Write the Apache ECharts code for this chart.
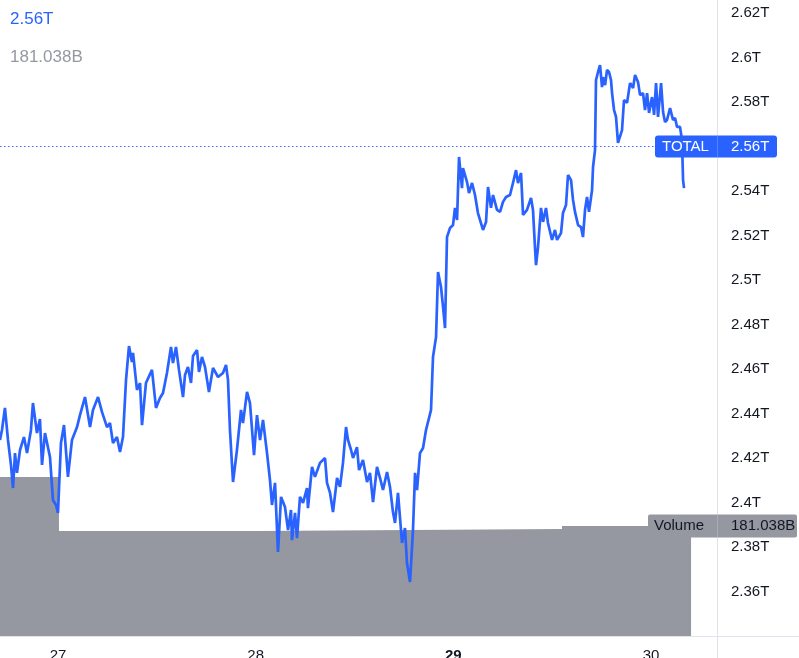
<!DOCTYPE html>
<html><head><meta charset="utf-8">
<script src="https://cdn.jsdelivr.net/npm/echarts@6/dist/echarts.min.js"></script>
<style>html,body{margin:0;padding:0;background:#fff;overflow:hidden}#c{width:799px;height:658px}</style>
</head><body><div id="c"></div>
<script>
// x values are hours after 27th 00:00; y values in trillions (T)
const dayTicks = [27, 28, 29, 30];
const hiddenPriceTicks = [2.34, 2.56];
const totalSeries = [
[-7.04,2.4281],[-6.80,2.4326],[-6.44,2.4425],[-6.07,2.4281],[-5.71,2.4169],[-5.46,2.4065],[-5.22,2.4222],[-4.98,2.4133],[-4.61,2.4236],[-4.13,2.4294],
[-3.76,2.4222],[-3.28,2.4326],[-3.04,2.4447],[-2.55,2.4312],[-2.19,2.4375],[-1.94,2.4169],[-1.58,2.4312],[-0.97,2.4204],[-0.61,2.4011],[-0.24,2.3989],
[0,2.3953],[0.36,2.4267],[0.73,2.4348],[1.21,2.4115],[1.70,2.4281],[2.31,2.4339],[2.67,2.4393],[3.28,2.4474],[3.89,2.4339],[4.25,2.4416],
[4.86,2.4474],[5.34,2.4407],[5.95,2.4339],[6.31,2.4357],[6.68,2.4267],[7.16,2.4294],[7.53,2.4227],[7.89,2.4294],[8.26,2.4551],[8.62,2.4703],
[8.98,2.4631],[9.11,2.4672],[9.59,2.4506],[9.96,2.4537],[10.20,2.4348],[10.68,2.4537],[11.41,2.4596],[11.90,2.4425],[12.38,2.4470],[12.75,2.4492],
[13.23,2.4582],[13.72,2.4699],[13.96,2.4627],[14.33,2.4699],[14.69,2.4596],[15.18,2.4474],[15.42,2.4573],[15.78,2.4609],[16.15,2.4537],[16.39,2.4658],
[16.88,2.4685],[17.12,2.4587],[17.48,2.4654],[17.85,2.4609],[18.33,2.4497],[18.82,2.4605],[19.43,2.4564],[20.03,2.4582],[20.40,2.4618],[20.64,2.4551],
[20.88,2.4326],[21.25,2.4092],[21.73,2.4236],[22.22,2.4416],[22.46,2.4357],[22.95,2.4497],[23.31,2.4447],[23.80,2.4213],[24.16,2.4393],[24.53,2.4281],
[24.89,2.4371],[25.38,2.4222],[25.74,2.4101],[25.98,2.3989],[26.35,2.4088],[26.71,2.3778],[27.08,2.4025],[27.56,2.3980],[27.93,2.3876],[28.29,2.3966],
[28.41,2.3831],[28.78,2.3953],[29.02,2.3840],[29.38,2.4025],[29.75,2.3998],[30.23,2.4065],[30.35,2.3975],[30.84,2.4160],[31.20,2.4115],[31.81,2.4178],
[32.42,2.4200],[32.66,2.4088],[33.03,2.4043],[33.39,2.3957],[33.88,2.4110],[34.24,2.4070],[34.60,2.4178],[34.97,2.4339],[35.21,2.4281],[35.58,2.4236],
[35.82,2.4200],[36.30,2.4249],[36.55,2.4146],[37.03,2.4191],[37.52,2.4092],[37.88,2.4133],[38.25,2.4002],[38.73,2.4160],[39.10,2.4110],[39.46,2.4056],
[39.95,2.4137],[40.31,2.4070],[40.67,2.3957],[40.92,2.3908],[41.28,2.4043],[41.77,2.3818],[42.13,2.3885],[42.37,2.3728],[42.74,2.3643],[43.10,2.3876],
[43.35,2.4133],[43.59,2.4056],[43.95,2.4222],[44.32,2.4245],[44.68,2.4326],[45.05,2.4380],[45.29,2.4416],[45.53,2.4654],[45.90,2.4744],[46.14,2.5036],
[46.50,2.4969],[46.75,2.4879],[46.99,2.4784],[47.23,2.5193],[47.60,2.5234],[47.96,2.5247],[48.20,2.5324],[48.45,2.5270],[48.69,2.5553],[49.05,2.5413],
[49.17,2.5503],[49.66,2.5440],[49.90,2.5391],[50.27,2.5436],[50.63,2.5382],[50.99,2.5301],[51.60,2.5225],[51.97,2.5261],[52.21,2.5418],[52.57,2.5324],
[52.82,2.5382],[53.30,2.5315],[53.67,2.5306],[54.03,2.5351],[54.40,2.5373],[54.88,2.5382],[55.24,2.5436],[55.61,2.5494],[55.85,2.5436],[56.22,2.5481],
[56.46,2.5292],[56.94,2.5315],[57.43,2.5369],[57.67,2.5315],[57.91,2.5148],[58.04,2.5067],[58.28,2.5148],[58.64,2.5324],[58.89,2.5261],[59.25,2.5324],
[59.49,2.5256],[59.98,2.5180],[60.34,2.5225],[60.59,2.5180],[61.07,2.5211],[61.31,2.5301],[61.68,2.5337],[61.92,2.5472],[62.29,2.5449],[62.53,2.5360],
[62.77,2.5306],[63.14,2.5247],[63.50,2.5238],[63.74,2.5193],[63.99,2.5315],[64.23,2.5373],[64.47,2.5306],[64.84,2.5404],[64.96,2.5508],[65.20,2.5584],
[65.32,2.5899],[65.57,2.5935],[65.81,2.5966],[66.05,2.5867],[66.17,2.5912],[66.42,2.5876],[66.66,2.5944],[66.90,2.5935],[67.14,2.5899],[67.27,2.5840],
[67.51,2.5764],[67.75,2.5733],[67.99,2.5616],[68.48,2.5674],[68.72,2.5809],[69.09,2.5796],[69.45,2.5885],[69.82,2.5863],[70.06,2.5921],[70.42,2.5890],
[70.67,2.5831],[71.03,2.5840],[71.27,2.5764],[71.52,2.5840],[71.76,2.5751],[72.12,2.5822],[72.37,2.5742],[72.61,2.5885],[72.85,2.5733],[73.22,2.5885],
[73.46,2.5755],[73.70,2.5710],[73.94,2.5719],[74.31,2.5773],[74.67,2.5719],[74.92,2.5728],[75.16,2.5688],[75.52,2.5688],[75.76,2.5629],[75.89,2.5449],
[76.01,2.5413]
];
// volume in billions (B), step segments
const volumeSeries = [[-7.04,261.6],[0.12,172.8],[24.16,176.0],[61.19,181.038],[76.86,181.038]];
const lastTotal = 2.56;
const lastTotalText = '2.56T';
const lastVolume = 181.038;
const lastVolumeText = '181.038B';

const FONT = '"Liberation Sans", Arial, sans-serif';
const BLUE = '#2962ff';
const GRAY = '#9598a1';
const TEXT = '#131722';

const chart = echarts.init(document.getElementById('c'), null, {renderer: 'canvas'});
chart.setOption({
  animation: false,
  backgroundColor: '#ffffff',
  grid: {left: 0, right: 82, top: 13, bottom: 22, containLabel: false, outerBoundsMode: 'none'},
  xAxis: {
    type: 'value', min: -7.04, max: 80.01,
    axisLine: {show: true, lineStyle: {color: '#e0e3eb', width: 1}},
    axisTick: {show: false}, splitLine: {show: false},
    axisLabel: {
      customValues: dayTicks.map(d => (d - 27) * 24),
      margin: 12, fontSize: 15, color: TEXT, fontFamily: FONT,
      formatter: v => { const d = 27 + Math.round(v / 24); return d === 29 ? '{b|29}' : String(d); },
      rich: {b: {fontWeight: 'bold', fontSize: 15, color: TEXT, fontFamily: FONT}}
    }
  },
  yAxis: [{
    type: 'value', position: 'right', min: 2.34, max: 2.62, interval: 0.02,
    axisLine: {show: false}, axisTick: {show: false}, splitLine: {show: false},
    axisLabel: {
      margin: 14, fontSize: 15, color: TEXT, fontFamily: FONT,
      formatter: v => hiddenPriceTicks.some(h => Math.abs(h - v) < 1e-6) ? '' : parseFloat(v.toFixed(2)) + 'T'
    }
  }, {
    type: 'value', min: 0, max: 1025, show: false
  }],
  series: [{
    type: 'line', yAxisIndex: 1, data: volumeSeries, step: 'end',
    showSymbol: false, symbol: 'none',
    lineStyle: {width: 0}, areaStyle: {color: GRAY, opacity: 1}, z: 1, silent: true
  }, {
    type: 'line', yAxisIndex: 0, data: totalSeries, showSymbol: false, symbol: 'none',
    lineStyle: {color: BLUE, width: 2.7}, z: 3, silent: true,
    markLine: {
      silent: true, symbol: 'none', animation: false,
      label: {show: false},
      lineStyle: {color: BLUE, type: [1.5, 2.5], width: 1, opacity: 0.9},
      data: [{yAxis: lastTotal}]
    }
  }]
});

const sepX = 799 - 82;
const yT = chart.convertToPixel({yAxisIndex: 0}, lastTotal);
const yV = chart.convertToPixel({yAxisIndex: 1}, lastVolume);
const axisBottom = 658 - 22;
chart.setOption({
  graphic: [
    {type: 'line', shape: {x1: sepX + 0.5, y1: 0, x2: sepX + 0.5, y2: 658}, style: {stroke: '#e0e3eb', lineWidth: 1}, z: 5, silent: true},
    {type: 'line', shape: {x1: sepX, y1: axisBottom + 0.5, x2: 799, y2: axisBottom + 0.5}, style: {stroke: '#e0e3eb', lineWidth: 1}, z: 5, silent: true},
    {type: 'text', x: 10, y: 19.5, style: {text: lastTotalText, fill: BLUE, font: '17px ' + FONT, textVerticalAlign: 'middle'}, z: 10},
    {type: 'text', x: 10, y: 57, style: {text: lastVolumeText, fill: GRAY, font: '17px ' + FONT, textVerticalAlign: 'middle'}, z: 10},
    {type: 'rect', shape: {x: 648, y: yV - 11.5, width: 149, height: 23, r: 2}, style: {fill: GRAY}, z: 20, silent: true},
    {type: 'line', shape: {x1: sepX + 0.5, y1: yV - 11.5, x2: sepX + 0.5, y2: yV + 11.5}, style: {stroke: 'rgba(255,255,255,0.2)', lineWidth: 1}, z: 21, silent: true},
    {type: 'text', x: 654, y: yV, style: {text: 'Volume', fill: TEXT, font: '15px ' + FONT, textVerticalAlign: 'middle'}, z: 22},
    {type: 'text', x: sepX + 14, y: yV, style: {text: lastVolumeText, fill: TEXT, font: '15px ' + FONT, textVerticalAlign: 'middle'}, z: 22},
    {type: 'rect', shape: {x: 655, y: yT - 11, width: 122, height: 22, r: 3}, style: {fill: BLUE}, z: 20, silent: true},
    {type: 'line', shape: {x1: sepX + 0.5, y1: yT - 11, x2: sepX + 0.5, y2: yT + 11}, style: {stroke: 'rgba(255,255,255,0.2)', lineWidth: 1}, z: 21, silent: true},
    {type: 'text', x: 662, y: yT, style: {text: 'TOTAL', fill: '#ffffff', font: '15px ' + FONT, textVerticalAlign: 'middle'}, z: 22},
    {type: 'text', x: sepX + 14, y: yT, style: {text: lastTotalText, fill: '#ffffff', font: '15px ' + FONT, textVerticalAlign: 'middle'}, z: 22}
  ]
});
</script>
</body></html>
